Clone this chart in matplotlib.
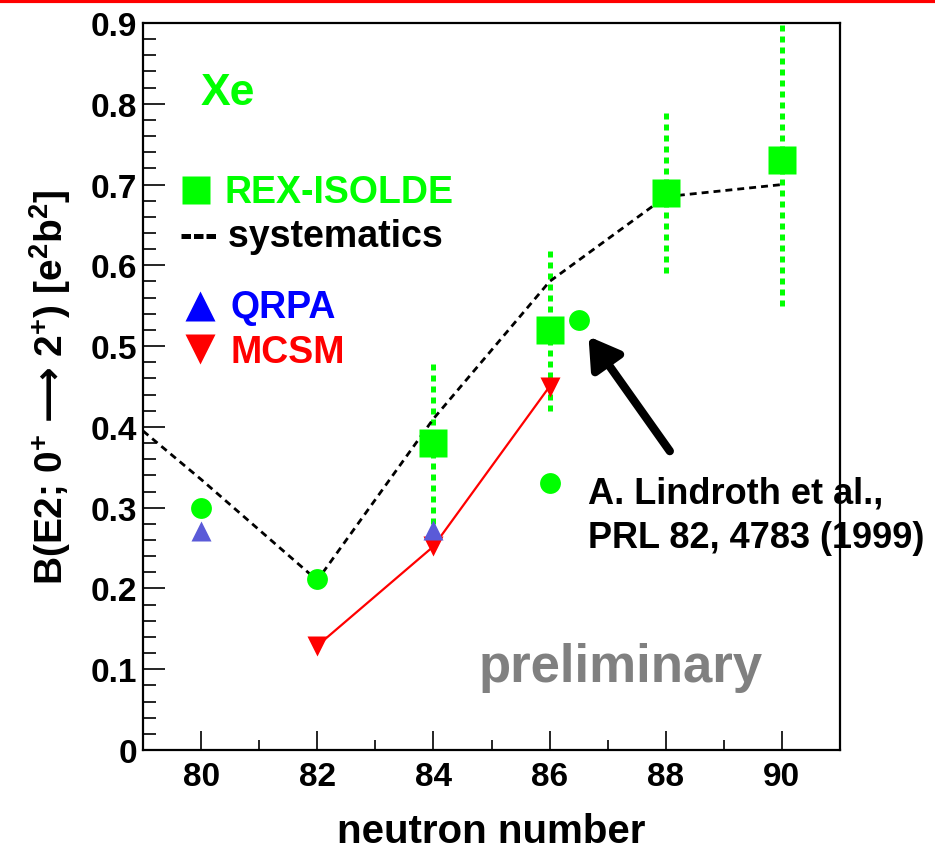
import numpy as np
import matplotlib
matplotlib.use("Agg")
import matplotlib.pyplot as plt
from matplotlib.lines import Line2D
from matplotlib.ticker import MultipleLocator

plt.rcParams['font.family'] = ['Liberation Sans', 'DejaVu Sans']
plt.rcParams['font.weight'] = 'bold'
plt.rcParams['mathtext.fontset'] = 'custom'
plt.rcParams['mathtext.rm'] = 'Liberation Sans:bold'
plt.rcParams['mathtext.sf'] = 'DejaVu Sans'
plt.rcParams['mathtext.default'] = 'rm'

# REX-ISOLDE measurements
rex_n = [84, 86, 88, 90]
rex_b = [0.38, 0.52, 0.69, 0.73]
rex_err = [0.10, 0.10, 0.10, 0.18]

# systematics (dashed)
sys_n = [79, 80, 82, 84, 86, 88, 90]
sys_b = [0.395, 0.335, 0.21, 0.41, 0.58, 0.685, 0.70]

# Lindroth et al. PRL 82, 4783 (1999)
lind_n = [80, 82, 86, 86.5]
lind_b = [0.30, 0.212, 0.33, 0.532]

# QRPA
qrpa_n = [80, 84]
qrpa_b = [0.271, 0.272]

# MCSM
mcsm_n = [82, 84, 86]
mcsm_b = [0.129, 0.252, 0.45]

xticks = [80, 82, 84, 86, 88, 90]
yticks = [0, 0.1, 0.2, 0.3, 0.4, 0.5, 0.6, 0.7, 0.8, 0.9]
ytick_labels = ['0', '0.1', '0.2', '0.3', '0.4', '0.5', '0.6', '0.7', '0.8', '0.9']

green = '#00ff00'
red = '#ff0000'

fig = plt.figure(figsize=(9.35, 8.54), dpi=100)
ax = fig.add_axes([143/935, 1-751/854, 697/935, 727/854])

# error bars (dotted green)
for n, b, e in zip(rex_n, rex_b, rex_err):
    ax.plot([n, n], [b-e, b+e], color=green, lw=3.6, ls=(0, (1.2, 1.0)),
            dash_capstyle='butt', zorder=2)

ax.plot(sys_n, sys_b, color='black', lw=2.0, ls=(0, (2.5, 1.8)), zorder=3)
ax.plot(mcsm_n, mcsm_b, color=red, lw=1.6, zorder=3)
ax.plot(mcsm_n, mcsm_b, 'v', color=red, ms=14.5, mec='none', zorder=4)
ax.plot(qrpa_n, qrpa_b, '^', color='#5a5ad8', ms=14.5, mec='none', zorder=5)
ax.plot(lind_n, lind_b, 'o', color=green, ms=15, mec='none', zorder=5)
ax.plot(rex_n, rex_b, 's', color=green, ms=20, mec='none', zorder=6)

ax.set_xlim(79, 91)
ax.set_ylim(0, 0.9)
ax.set_xticks(xticks)
ax.xaxis.set_minor_locator(MultipleLocator(1))
ax.set_yticks(yticks, ytick_labels)
ax.yaxis.set_minor_locator(MultipleLocator(0.02))
ax.tick_params(which='both', direction='in', width=1.2, top=False, right=False)
ax.tick_params(axis='y', which='major', length=16, labelsize=24, pad=4)
ax.tick_params(axis='y', which='minor', length=9)
ax.tick_params(axis='x', which='major', length=14, labelsize=24, pad=8)
ax.tick_params(axis='x', which='minor', length=7)
for s in ax.spines.values():
    s.set_linewidth(1.6)

ax.set_xlabel('neutron number', fontsize=29, fontweight='bold', labelpad=14)
fig.text(50/935, 1-387/854,
         'B(E2; 0$^{+}$ $\\mathsf{\u27f6}$ 2$^{+}$) [e$^{2}$b$^{2}$]',
         rotation=90, fontsize=28, fontweight='bold', ha='center', va='center')

# legend-like annotations
tr = ax.transAxes
ax.text(0.082, 0.889, 'Xe', transform=tr, color=green, fontsize=32, fontweight='bold')
ax.plot([0.0763], [0.770], 's', color=green, ms=20, mec='none', transform=tr)
ax.text(0.1165, 0.754, 'REX-ISOLDE', transform=tr, color=green, fontsize=27, fontweight='bold')
ax.text(0.0532, 0.693, '--- systematics', transform=tr, color='black', fontsize=27, fontweight='bold')
ax.plot([0.082], [0.611], '^', color='#0000ff', ms=22, mec='none', transform=tr)
ax.text(0.125, 0.596, 'QRPA', transform=tr, color='#0000ff', fontsize=27, fontweight='bold')
ax.plot([0.082], [0.552], 'v', color=red, ms=22, mec='none', transform=tr)
ax.text(0.125, 0.534, 'MCSM', transform=tr, color=red, fontsize=27, fontweight='bold')

ax.text(0.482, 0.095, 'preliminary', transform=tr, color='#808080', fontsize=38, fontweight='bold')
ax.text(0.639, 0.341, 'A. Lindroth et al.,', transform=tr, fontsize=26, fontweight='bold')
ax.text(0.639, 0.279, 'PRL 82, 4783 (1999)', transform=tr, fontsize=26, fontweight='bold')

ax.annotate('', xy=(86.67, 0.512), xytext=(88.07, 0.37),
            arrowprops=dict(arrowstyle='-|>,head_length=0.9,head_width=0.55',
                            lw=6, color='black', shrinkA=0, shrinkB=0,
                            mutation_scale=20))

# red rule along the top of the slide
fig.add_artist(Line2D([0, 1], [1-1.5/854, 1-1.5/854], color=red, lw=3, transform=fig.transFigure))

fig.savefig('out.png', dpi=100)
